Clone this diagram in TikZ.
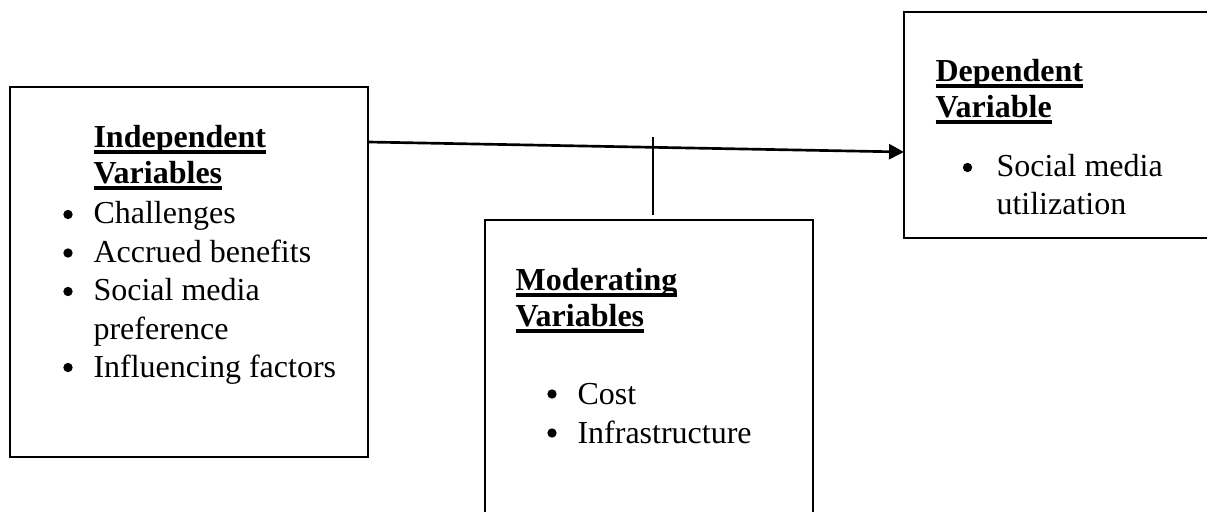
\documentclass[tikz,border=0pt]{standalone}
\usepackage{fontspec}
\setmainfont{Liberation Serif}
\usetikzlibrary{arrows.meta,calc}
% bold heading with a heavy underline just below the baseline
\newcommand\hdline[1]{\setbox0\hbox{\bfseries #1}\rlap{\rule[-2.1pt]{\wd0}{1.3pt}}\box0}
\begin{document}
\begin{tikzpicture}[x=0.375pt,y=-0.375pt,
  box/.style={draw, line width=0.8pt, inner sep=0pt, outer sep=0pt, anchor=north west},
  txt/.style={inner sep=0pt, anchor=base west, font=\fontsize{12}{14}\selectfont},
  bul/.style={circle, fill, inner sep=0pt, minimum size=3.5pt},
  link/.style={line width=1pt}]
\useasboundingbox (0,0) rectangle (1207,512);

% frames of the three variable groups
\node[box, minimum width=134.25pt, minimum height=138.75pt] (iv) at (10,87) {};
\node[box, minimum width=123pt, minimum height=116.25pt] (mv) at (485,220) {};
\node[box, minimum width=123.75pt, minimum height=84.75pt] (dv) at (904,12) {};

% independent variables
\node[txt] (ivh1) at (93,148) {\hdline{Independent}};
\node[txt] (ivh2) at (93,184) {\hdline{Variables}};
\node[bul] (ivb1) at (68,214.5) {};
\node[txt] (ivt1) at (93,224) {Challenges};
\node[bul] (ivb2) at (68,253) {};
\node[txt] (ivt2) at (93,262.5) {Accrued benefits};
\node[bul] (ivb3) at (68,291.5) {};
\node[txt] (ivt3) at (93,301) {Social media};
\node[txt] (ivt3b) at (93,339) {preference};
\node[bul] (ivb4) at (68,367.5) {};
\node[txt] (ivt4) at (93,377) {Influencing factors};

% moderating variables
\node[txt] (mvh1) at (515,291) {\hdline{Moderating}};
\node[txt] (mvh2) at (515,327) {\hdline{Variables}};
\node[bul] (mvb1) at (552,394) {};
\node[txt] (mvt1) at (577,404) {Cost};
\node[bul] (mvb2) at (552,433) {};
\node[txt] (mvt2) at (577,443) {Infrastructure};

% dependent variable
\node[txt] (dvh1) at (935,82) {\hdline{Dependent}};
\node[txt] (dvh2) at (935,118) {\hdline{Variable}};
\node[bul] (dvb1) at (967.5,167.5) {};
\node[txt] (dvt1) at (996,177) {Social media};
\node[txt] (dvt1b) at (996,215) {utilization};

% main relation and the moderating link
\coordinate (arrS) at ($(iv.north east)+(0,55)$);
\coordinate (arrE) at ($(dv.north west)+(0,140)$);
\draw[link,-{Triangle[length=5.6pt,width=5.6pt]}] (arrS) -- (arrE);
\coordinate (modT) at ($(mv.north west)+(168,-83)$);
\coordinate (modB) at ($(mv.north west)+(168,-5)$);
\draw[line width=0.7pt] (modT) -- (modB);
\end{tikzpicture}
\end{document}
